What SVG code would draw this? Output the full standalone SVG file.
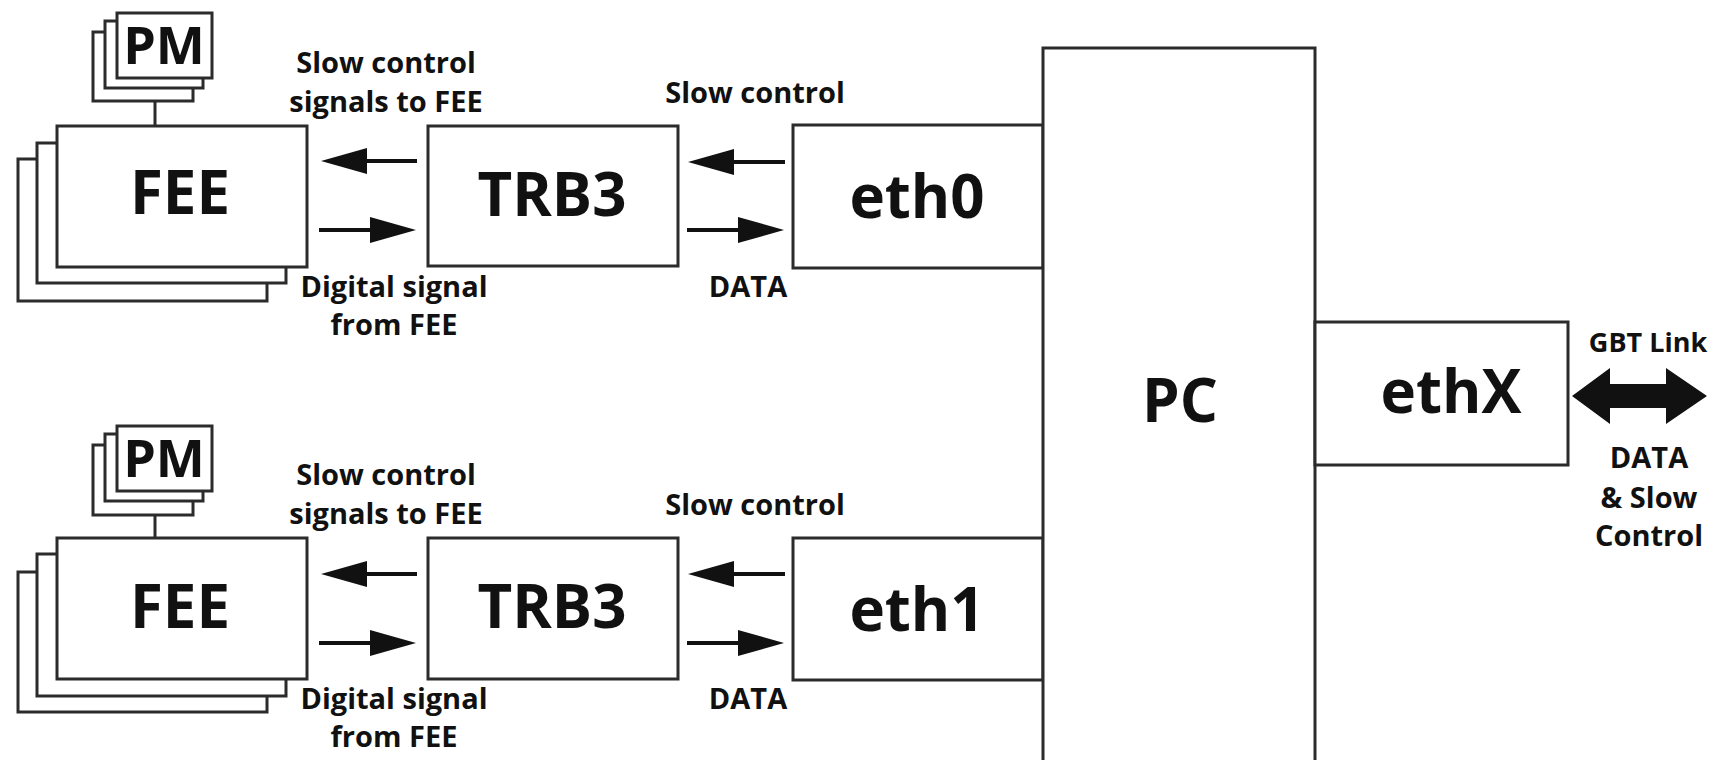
<svg xmlns="http://www.w3.org/2000/svg" width="1721" height="760" viewBox="0 0 1721 760">
<style>
.box{fill:#fff;stroke:#2b2b2b;stroke-width:3}
.t{font-family:'Open Sans','Noto Sans','DejaVu Sans',sans-serif;font-weight:bold;text-anchor:middle;fill:#111}
.big{font-size:60px}
.pm{font-size:52px}
.lbl{font-size:29px}
.sh{stroke:#111;stroke-width:4;fill:none}
.ln{stroke:#2b2b2b;stroke-width:3;fill:none}
</style>
<defs>
<marker id="ah" markerUnits="userSpaceOnUse" markerWidth="46" markerHeight="26" refX="2" refY="13" orient="auto">
<path d="M0,0 L46,13 L0,26 Z" fill="#111"/>
</marker>
</defs>
<rect width="1721" height="760" fill="#fff"/>

<g id="pm1">
<rect class="box" x="93" y="32" width="100" height="69"/>
<rect class="box" x="105" y="21" width="98" height="67"/>
<rect class="box" x="117" y="13" width="95" height="65"/>
<text class="t pm" x="164" y="64">PM</text>
</g>
<g id="fee1">
<rect class="box" x="18" y="159" width="249" height="142"/>
<rect class="box" x="37" y="143" width="249" height="140"/>
<rect class="box" x="57" y="126" width="250" height="141"/>
<text class="t big" x="180" y="214">FEE</text>
</g>
<g id="trb1">
<rect class="box" x="428" y="126" width="250" height="140"/>
<text class="t big" x="552" y="216">TRB3</text>
</g>
<g id="eth0">
<rect class="box" x="793" y="125" width="250" height="143"/>
<text class="t big" x="917" y="218">eth0</text>
</g>

<g id="pm2">
<rect class="box" x="93" y="445" width="100" height="70"/>
<rect class="box" x="105" y="434" width="98" height="67"/>
<rect class="box" x="117" y="426" width="95" height="65"/>
<text class="t pm" x="164" y="477">PM</text>
</g>
<g id="fee2">
<rect class="box" x="18" y="572" width="249" height="140"/>
<rect class="box" x="37" y="554" width="249" height="142"/>
<rect class="box" x="57" y="538" width="250" height="141"/>
<text class="t big" x="180" y="628">FEE</text>
</g>
<g id="trb2">
<rect class="box" x="428" y="538" width="250" height="141"/>
<text class="t big" x="552" y="628">TRB3</text>
</g>
<g id="eth1">
<rect class="box" x="793" y="538" width="250" height="142"/>
<text class="t big" x="917" y="631">eth1</text>
</g>

<g id="pc">
<rect class="box" x="1043" y="48" width="272" height="740"/>
<text class="t" style="font-size:60px" x="1180" y="422">PC</text>
</g>
<g id="ethX">
<rect class="box" x="1315" y="322" width="253" height="143"/>
<text class="t big" x="1451" y="413">ethX</text>
</g>

<g id="connectors">
<line class="ln" x1="155" y1="101" x2="155" y2="126"/>
<line class="ln" x1="155" y1="515" x2="155" y2="538"/>
<line class="sh" x1="417" y1="161" x2="365" y2="161" marker-end="url(#ah)"/>
<line class="sh" x1="319" y1="230" x2="372" y2="230" marker-end="url(#ah)"/>
<line class="sh" x1="785" y1="162" x2="732" y2="162" marker-end="url(#ah)"/>
<line class="sh" x1="687" y1="230" x2="740" y2="230" marker-end="url(#ah)"/>
<line class="sh" x1="417" y1="574" x2="365" y2="574" marker-end="url(#ah)"/>
<line class="sh" x1="319" y1="643" x2="372" y2="643" marker-end="url(#ah)"/>
<line class="sh" x1="785" y1="574" x2="732" y2="574" marker-end="url(#ah)"/>
<line class="sh" x1="687" y1="643" x2="740" y2="643" marker-end="url(#ah)"/>
<path d="M1572,396 L1610,368 L1610,384 L1666,384 L1666,368 L1707,396 L1666,424 L1666,408 L1610,408 L1610,424 Z" fill="#111"/>
</g>

<g id="labels">
<text class="t lbl" x="386" y="73">Slow control</text>
<text class="t lbl" x="386" y="112">signals to FEE</text>
<text class="t lbl" x="394" y="297">Digital signal</text>
<text class="t lbl" x="394" y="335">from FEE</text>
<text class="t lbl" x="755" y="103">Slow control</text>
<text class="t lbl" x="748" y="297">DATA</text>
<text class="t lbl" x="386" y="485">Slow control</text>
<text class="t lbl" x="386" y="524">signals to FEE</text>
<text class="t lbl" x="394" y="709">Digital signal</text>
<text class="t lbl" x="394" y="747">from FEE</text>
<text class="t lbl" x="755" y="515">Slow control</text>
<text class="t lbl" x="748" y="709">DATA</text>
<text class="t lbl" style="font-size:27px" x="1648" y="352">GBT Link</text>
<text class="t lbl" x="1649" y="468">DATA</text>
<text class="t lbl" x="1649" y="508">&amp; Slow</text>
<text class="t lbl" x="1649" y="546">Control</text>
</g>
</svg>
